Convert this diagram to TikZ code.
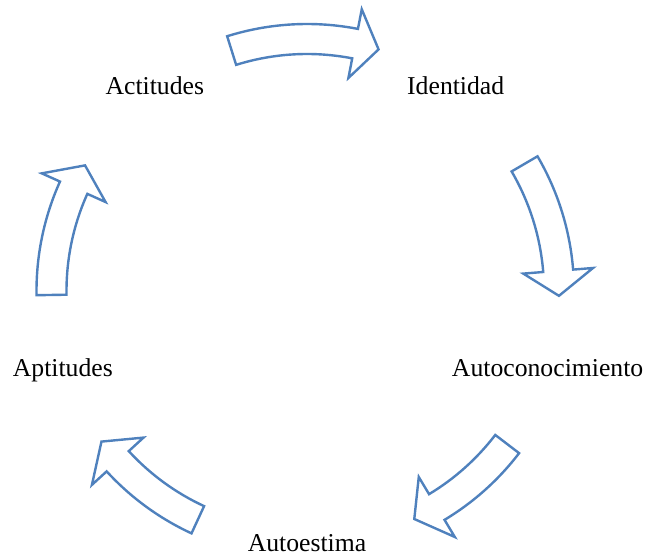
\documentclass[tikz,border=0pt]{standalone}
\usepackage{fontspec}
\setmainfont{Liberation Serif}
\usetikzlibrary{calc}
\definecolor{arrblue}{RGB}{79,129,189}
\tikzset{%
	stage/.style    = {font=\fontsize{25.7}{30}\selectfont, text height=19.3pt, text depth=3.9pt, inner sep=0pt}, % step names
	cyclearr/.style = {draw=arrblue, fill=white, line width=2.4pt, line join=miter}, % hollow bent arrow
}
% [centre] tail angle, head base angle, tip angle
\newcommand{\cyclearrow}[4][c]{%
	\draw[cyclearr] ($(#1)+(#2:267pt)$) arc[start angle=#2, end angle=#3, radius=267pt]
		-- ($(#1)+(#3:287pt)$) -- ($(#1)+(#4:252pt)$) -- ($(#1)+(#3:217pt)$)
		-- ($(#1)+(#3:237pt)$) arc[start angle=#3, end angle=#2, radius=237pt] -- cycle;
}

\begin{document}
\begin{tikzpicture}[x=1pt,y=1pt]
	\useasboundingbox (0,0) rectangle (649,558);
	\coordinate (c) at (307,267);
	\coordinate (cl) at (303.5,267); % left half sits a bit further out
	
	\node [stage] (actitudes)  at ($(cl)+(126:253pt)$) {Actitudes};
	\node [stage] (identidad)  at ($(c)+(54:253pt)$)  {Identidad};
	\node [stage] (autocon)    at ($(c)+(-18:253pt)$) {Autoconocimiento};
	\node [stage] (autoestima) at ($(c)+(-90:253pt)$) {Autoestima};
	\node [stage] (aptitudes)  at ($(cl)+(198:253pt)$) {Aptitudes};
	
	\cyclearrow{107.4}{79}{73.5}
	\cyclearrow{30.3}{4.6}{-1.1}
	\cyclearrow{-37.4}{-59}{-64.8}
	\cyclearrow[cl]{-114.8}{-137.5}{-143.3}
	\cyclearrow[cl]{180.9}{155.8}{150.1}
\end{tikzpicture}
\end{document}
